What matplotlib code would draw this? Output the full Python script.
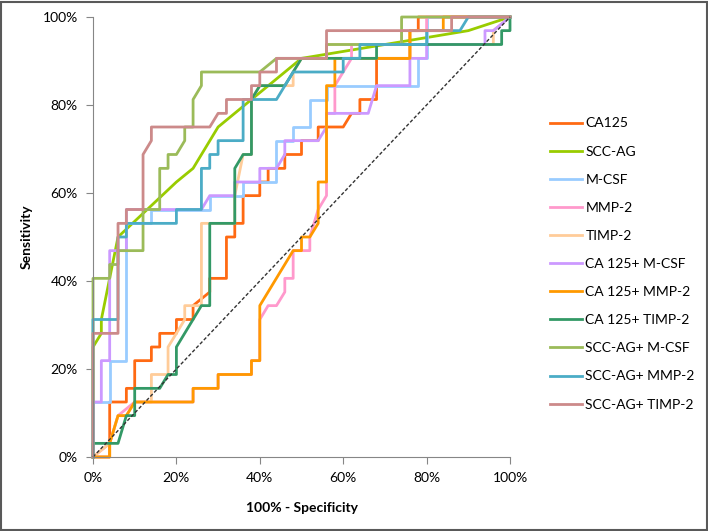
import numpy as np
import matplotlib.pyplot as plt
from matplotlib.patches import Rectangle

plt.rcParams['font.family'] = ['Lato', 'DejaVu Sans']

# ROC points (x = 100% - specificity, y = sensitivity, both in %)
ca125_x = [0, 4, 4, 8, 8, 10, 10, 14, 14, 16, 16, 20, 20, 24, 24, 28, 28, 32, 32, 34, 34, 36, 36, 40, 40, 42, 42, 46, 46, 50, 50, 54, 54, 60, 62, 64, 64, 68, 68, 76, 76, 78, 78, 100]
ca125_y = [0, 0, 12.5, 12.5, 15.6, 15.6, 21.9, 21.9, 25, 25, 28.1, 28.1, 31.25, 31.25, 34.4, 37.5, 40.6, 40.6, 50, 50, 53.1, 53.1, 59.4, 59.4, 62.5, 62.5, 65.6, 65.6, 68.75, 68.75, 71.9, 71.9, 75, 75, 78.1, 78.1, 81.25, 81.25, 90.6, 90.6, 96.9, 96.9, 100, 100]

scc_x = [0, 0, 2, 2, 6, 20, 24, 30, 38, 50, 90, 100]
scc_y = [0, 25, 28.1, 31.25, 50, 62.5, 65.6, 75, 81.25, 90.6, 96.9, 100]

mcsf_x = [0, 0, 4, 4, 8, 8, 14, 14, 28, 28, 36, 36, 44, 44, 48, 48, 52, 52, 56, 56, 78, 78, 80, 80, 100]
mcsf_y = [0, 12.5, 12.5, 21.9, 21.9, 53.1, 53.1, 56.25, 56.25, 59.4, 59.4, 62.5, 62.5, 71.9, 71.9, 75, 75, 81.25, 81.25, 84.4, 84.4, 90.6, 90.6, 100, 100]

mmp2_x = [0, 4, 6, 10, 24, 24, 30, 30, 38, 38, 40, 40, 42, 44, 46, 46, 48, 48, 52, 52, 54, 56, 56, 58, 58, 62, 62, 74, 74, 80, 80, 100]
mmp2_y = [0, 3.1, 9.4, 12.5, 12.5, 15.6, 15.6, 18.75, 18.75, 21.9, 21.9, 31.25, 34.4, 34.4, 37.5, 40.6, 40.6, 46.9, 46.9, 50, 56.25, 59.4, 78.1, 78.1, 84.4, 90.6, 93.75, 93.75, 96.9, 96.9, 100, 100]

timp2_x = [0, 4, 6, 8, 10, 14, 14, 18, 18, 20, 22, 22, 26, 26, 34, 34, 36, 38, 38, 40, 48, 48, 50, 56, 56, 96, 96, 100]
timp2_y = [0, 3.1, 9.4, 9.4, 12.5, 12.5, 18.75, 18.75, 25, 28.1, 31.25, 34.4, 34.4, 53.1, 53.1, 59.4, 68.75, 68.75, 81.25, 84.4, 84.4, 87.5, 90.6, 90.6, 93.75, 93.75, 96.9, 100]

ca_mcsf_x = [0, 0, 2, 2, 4, 4, 8, 8, 26, 28, 34, 34, 40, 40, 44, 46, 46, 54, 56, 56, 66, 68, 76, 76, 80, 80, 94, 94, 96, 100]
ca_mcsf_y = [0, 12.5, 12.5, 21.9, 21.9, 46.9, 46.9, 56.25, 56.25, 59.4, 59.4, 62.5, 62.5, 65.6, 65.6, 68.75, 71.9, 71.9, 75, 78.1, 78.1, 84.4, 84.4, 90.6, 90.6, 93.75, 93.75, 96.9, 96.9, 100]

ca_mmp2_x = [0, 4, 4, 6, 8, 10, 24, 24, 30, 30, 38, 38, 40, 40, 48, 50, 50, 52, 54, 54, 56, 56, 58, 58, 76, 76, 84, 84, 100]
ca_mmp2_y = [0, 0, 3.1, 9.4, 9.4, 12.5, 12.5, 15.6, 15.6, 18.75, 18.75, 21.9, 21.9, 34.4, 46.9, 46.9, 50, 50, 53.1, 62.5, 62.5, 84.4, 84.4, 90.6, 90.6, 96.9, 96.9, 100, 100]

ca_timp2_x = [0, 0, 6, 8, 10, 10, 16, 18, 20, 20, 26, 28, 28, 34, 34, 36, 38, 38, 40, 46, 48, 50, 68, 68, 98, 98, 100, 100]
ca_timp2_y = [0, 3.1, 3.1, 9.4, 9.4, 15.6, 15.6, 18.75, 18.75, 25, 34.4, 34.4, 53.1, 53.1, 65.6, 68.75, 68.75, 81.25, 84.4, 84.4, 87.5, 90.6, 90.6, 93.75, 93.75, 96.9, 96.9, 100]

scc_mcsf_x = [0, 0, 4, 4, 6, 6, 12, 12, 16, 16, 18, 18, 20, 22, 22, 24, 24, 26, 26, 40, 44, 56, 56, 74, 74, 100]
scc_mcsf_y = [0, 40.6, 40.6, 43.75, 43.75, 46.9, 46.9, 56.25, 56.25, 65.6, 65.6, 68.75, 68.75, 71.9, 75, 75, 81.25, 84.4, 87.5, 87.5, 90.6, 90.6, 93.75, 93.75, 100, 100]

scc_mmp2_x = [0, 0, 6, 6, 8, 8, 20, 20, 26, 26, 28, 28, 30, 30, 36, 36, 44, 48, 60, 60, 64, 64, 80, 80, 88, 90, 100]
scc_mmp2_y = [0, 31.25, 31.25, 50, 50, 53.1, 53.1, 56.25, 56.25, 65.6, 65.6, 68.75, 68.75, 71.9, 71.9, 81.25, 81.25, 87.5, 87.5, 90.6, 90.6, 93.75, 93.75, 96.9, 96.9, 100, 100]

scc_timp2_x = [0, 0, 6, 6, 8, 8, 12, 12, 14, 14, 28, 30, 32, 32, 38, 38, 40, 40, 44, 44, 56, 56, 86, 86, 100]
scc_timp2_y = [0, 28.1, 28.1, 53.1, 53.1, 56.25, 56.25, 68.75, 71.9, 75, 75, 78.1, 78.1, 81.25, 81.25, 84.4, 84.4, 87.5, 87.5, 90.6, 90.6, 96.9, 96.9, 100, 100]

labels = ['CA125', 'SCC-AG', 'M-CSF', 'MMP-2', 'TIMP-2', 'CA 125+ M-CSF', 'CA 125+ MMP-2',
          'CA 125+ TIMP-2', 'SCC-AG+ M-CSF', 'SCC-AG+ MMP-2', 'SCC-AG+ TIMP-2']
colors = ['#FF6A13', '#99CC00', '#99CCFF', '#FF99CC', '#FFCC99', '#CC99FF', '#FF9900',
          '#339966', '#9BBB59', '#4BACC6', '#CC8A8A']
series = [(ca125_x, ca125_y), (scc_x, scc_y), (mcsf_x, mcsf_y), (mmp2_x, mmp2_y),
          (timp2_x, timp2_y), (ca_mcsf_x, ca_mcsf_y), (ca_mmp2_x, ca_mmp2_y),
          (ca_timp2_x, ca_timp2_y), (scc_mcsf_x, scc_mcsf_y), (scc_mmp2_x, scc_mmp2_y),
          (scc_timp2_x, scc_timp2_y)]

fig = plt.figure(figsize=(7.08, 5.31), dpi=100)
ax = fig.add_axes([93/708, 1-457/531, 417/708, 440/531])

for (xs, ys), lab, col in zip(series, labels, colors):
    ax.plot(np.array(xs)/100, np.array(ys)/100, color=col, lw=2.0, label=lab, clip_on=False)

# reference diagonal
ax.plot([0, 1], [0, 1], color='#333333', lw=1.0, dashes=(2.5, 1.5), clip_on=False)

ax.set_xlim(0, 1)
ax.set_ylim(0, 1)
ticks = np.arange(0, 1.01, 0.2)
ax.set_xticks(ticks)
ax.set_yticks(ticks)
ax.set_xticklabels([f'{int(round(t*100))}%' for t in ticks])
ax.set_yticklabels([f'{int(round(t*100))}%' for t in ticks])
ax.tick_params(direction='out', length=5, color='#868686', labelsize=10, pad=6)

for s in ['top', 'right']:
    ax.spines[s].set_visible(False)
for s in ['left', 'bottom']:
    ax.spines[s].set_color('#868686')

ax.set_xlabel('100% - Specificity', fontsize=10, fontweight='bold')
ax.set_ylabel('Sensitivity', fontsize=10, fontweight='bold')
ax.xaxis.set_label_coords(0.5, -0.102)
ax.yaxis.set_label_coords(-0.144, 0.5)

ax.legend(loc='center left', bbox_to_anchor=(550/708, 1-264/531), bbox_transform=fig.transFigure,
          frameon=False, fontsize=10, handlelength=2.3, handletextpad=0.25,
          labelspacing=1.16, borderpad=0, borderaxespad=0)

# chart border
fig.patches.append(Rectangle((0.002, 0.002), 0.996, 0.995, transform=fig.transFigure,
                             fill=False, edgecolor='#595959', lw=1.5))

plt.savefig('out.png', dpi=100)
